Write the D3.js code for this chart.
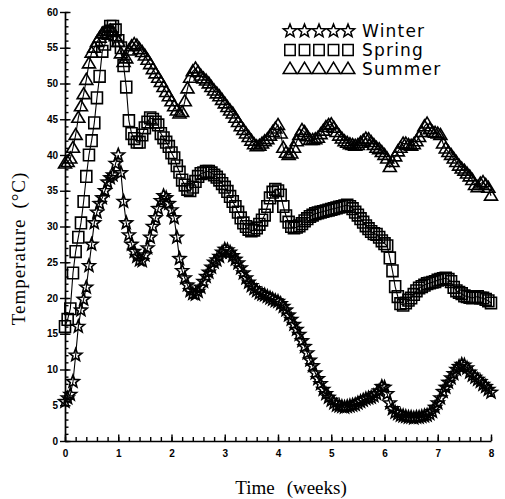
<!DOCTYPE html>
<html>
<head>
<meta charset="utf-8">
<script src="https://cdn.jsdelivr.net/npm/d3@7"></script>
<style>
  body { margin: 0; background: #fff; }
  svg { display: block; }
</style>
</head>
<body>
<svg id="chart" width="505" height="499"></svg>
<script>
// Readings taken every 0.05 week, starting at week 0
const sampleStep = 0.05;

// Temperature (°C), one row per week
const winter = [
  5.5, 6.0, 6.5, 8.3, 12.0, 16.0, 18.3, 19.8, 21.5, 24.5, 27.5, 30.5, 32.0, 33.2, 34.0, 35.0, 36.2, 36.8, 37.2, 38.8,
  40.0, 37.5, 33.5, 30.5, 28.8, 27.5, 26.5, 25.8, 25.3, 25.2, 26.0, 27.0, 28.5, 30.0, 31.2, 32.5, 33.6, 34.3, 34.0, 33.2,
  32.3, 31.2, 28.5, 25.5, 23.8, 22.8, 21.8, 21.0, 20.6, 20.5, 20.9, 21.5, 22.3, 23.0, 23.6, 24.3, 25.0, 25.3, 25.8, 26.4,
  26.8, 26.7, 26.4, 25.9, 25.4, 24.9, 24.2, 23.5, 22.8, 22.2, 21.7, 21.3, 21.0, 20.7, 20.5, 20.4, 20.2, 20.0, 19.8, 19.6,
  19.5, 19.2, 18.8, 18.3, 17.6, 17.0, 16.3, 15.6, 14.9, 14.0, 13.2, 12.3, 11.3, 10.5, 9.5, 8.7, 8.0, 7.2, 6.6, 6.1,
  5.7, 5.3, 5.0, 4.9, 4.8, 4.7, 4.8, 4.9, 5.0, 5.1, 5.3, 5.5, 5.7, 5.9, 6.0, 6.1, 6.3, 6.6, 7.0, 7.6,
  7.5, 6.6, 5.3, 4.5, 4.0, 3.8, 3.6, 3.5, 3.4, 3.3, 3.3, 3.2, 3.3, 3.3, 3.4, 3.5, 3.6, 3.8, 4.1, 4.7,
  5.3, 6.0, 6.9, 7.5, 8.2, 8.8, 9.4, 10.0, 10.4, 10.7, 10.6, 10.2, 9.6, 9.2, 8.9, 8.6, 8.3, 7.9, 7.6, 7.2,
  6.8
];

const spring = [
  16.0, 17.0, 18.5, 23.5, 26.5, 28.5, 30.5, 33.5, 37.0, 40.0, 42.0, 44.5, 48.0, 51.0, 54.5, 55.5, 57.0, 58.0, 58.0, 57.5,
  56.0, 55.0, 52.5, 49.5, 44.8, 43.0, 42.3, 41.8, 41.8, 42.8, 43.8, 44.6, 45.2, 45.0, 44.6, 44.2, 43.0, 42.4, 41.8, 41.2,
  40.3, 39.6, 38.5, 37.6, 36.5, 35.8, 35.2, 35.0, 35.5, 36.3, 37.0, 37.4, 37.5, 37.7, 37.7, 37.5, 37.2, 36.9, 36.5, 36.0,
  35.5, 34.9, 34.2, 33.5, 32.8, 32.0, 31.2, 30.5, 30.0, 29.6, 29.4, 29.5, 29.8, 30.3, 30.9, 31.6, 32.8, 34.0, 34.8, 35.2,
  35.0, 34.4, 32.8, 31.5, 30.6, 30.0, 29.8, 29.9, 30.1, 30.4, 30.8, 31.1, 31.4, 31.6, 31.8, 31.9, 32.0, 32.1, 32.2, 32.3,
  32.4, 32.5, 32.6, 32.7, 32.8, 32.9, 33.0, 32.8, 32.5, 32.0, 31.6, 31.1, 30.6, 30.1, 29.7, 29.3, 29.0, 28.9, 28.5, 28.0,
  27.6, 27.3, 25.6, 23.8, 21.6, 20.2, 19.2, 19.0, 19.3, 19.7, 20.0, 20.5, 21.0, 21.4, 21.6, 21.8, 22.0, 22.1, 22.2, 22.3,
  22.5, 22.6, 22.7, 22.8, 22.6, 22.3, 21.5, 21.0, 20.8, 20.6, 20.3, 20.2, 20.1, 20.0, 20.1, 20.2, 20.0, 20.0, 19.8, 19.6,
  19.3
];

const summer = [
  38.8, 39.0, 39.5, 41.0, 42.8, 45.2, 46.8, 48.5, 50.5, 52.8, 54.3, 55.0, 55.8, 56.4, 57.0, 57.3, 57.4, 57.4, 57.2, 56.6,
  55.8, 54.2, 53.0, 53.5, 54.6, 55.2, 55.5, 55.3, 54.8, 54.4, 53.9, 53.3, 52.7, 52.0, 51.4, 50.8, 50.2, 49.5, 48.8, 48.2,
  47.5, 46.8, 46.2, 45.8, 46.0, 47.5, 49.3, 50.8, 51.7, 52.1, 51.6, 51.1, 50.7, 50.4, 50.0, 49.5, 49.0, 48.6, 48.2, 47.7,
  47.2, 46.7, 46.2, 45.8, 45.2, 44.6, 44.0, 43.5, 43.0, 42.5, 42.0, 41.5, 41.2, 41.3, 41.6, 41.9, 42.2, 42.7, 43.2, 43.7,
  44.2, 43.0, 41.0, 40.3, 40.0, 40.2, 41.0, 41.9, 42.8, 43.5, 43.2, 42.6, 42.1, 42.1, 42.2, 42.4, 42.9, 43.4, 43.9, 44.2,
  44.3, 43.8, 43.2, 42.7, 42.3, 41.9, 41.7, 41.5, 41.4, 41.3, 41.4, 41.7, 42.0, 42.3, 42.2, 41.8, 41.4, 41.0, 40.8, 40.4,
  40.0, 39.5, 38.3, 39.0, 39.8, 40.5, 41.0, 41.6, 41.6, 41.4, 41.3, 41.5, 41.9, 42.5, 43.2, 44.0, 44.4, 43.6, 43.2, 43.1,
  43.0, 42.8, 41.6, 40.9, 40.4, 40.0, 39.5, 39.0, 38.5, 38.1, 37.8, 37.4, 37.0, 36.5, 35.8, 35.5, 36.0, 36.2, 35.8, 35.4,
  34.3
];

const seriesNames = ["Winter", "Spring", "Summer"];
const seriesValues = [winter, spring, summer];
const markerKinds = ["star", "square", "triangle"];

const xTicks = [0, 1, 2, 3, 4, 5, 6, 7, 8];
const yTicks = [0, 5, 10, 15, 20, 25, 30, 35, 40, 45, 50, 55, 60];
const xMinorStep = 0.2;
const yMinorStep = 1;

const xTitle = ["Time", "(weeks)"];
const yTitle = ["Temperature", "(°C)"];

// ---------------------------------------------------------------
const svg = d3.select("#chart");
const plotLeft = 65, plotRight = 491, plotTop = 12, plotBottom = 441;

const x = d3.scaleLinear().domain([0, 8]).range([plotLeft, plotRight]);
const y = d3.scaleLinear().domain([0, 60]).range([plotBottom, plotTop]);

const ink = "#000";

// Marker outlines
function markerPath(kind, s) {
  if (kind === "star") {
    const ro = 6.6 * s, ri = 2.8 * s;
    const pts = d3.range(10).map(k => {
      const a = -Math.PI / 2 + k * Math.PI / 5;
      const r = k % 2 === 0 ? ro : ri;
      return [r * Math.cos(a), r * Math.sin(a)];
    });
    return "M" + pts.map(p => p.join(",")).join("L") + "Z";
  }
  if (kind === "square") {
    const w = 5.5 * s, h = 5.8 * s;
    return `M${-w},${-h}H${w}V${h}H${-w}Z`;
  }
  const w = 6.5 * s, h1 = 6.5 * s, h2 = 4.4 * s;
  return `M0,${-h1}L${w},${h2}H${-w}Z`;
}

// Axes --------------------------------------------------------
const axisStyle = g => {
  g.selectAll(".domain").attr("stroke", ink).attr("stroke-width", 1.7);
  g.selectAll(".tick line").attr("stroke", ink).attr("stroke-width", 1.4);
  g.selectAll("text")
    .attr("fill", ink)
    .style("font-family", "'Liberation Sans', Arial, sans-serif")
    .style("font-weight", "bold")
    .style("font-size", "10px");
};

// y minor ticks (inside)
svg.append("g")
  .attr("transform", `translate(${plotLeft},0)`)
  .call(d3.axisLeft(y).tickValues(d3.range(0, 60 + 1e-9, yMinorStep)).tickSize(-3.5).tickFormat(""))
  .call(axisStyle)
  .call(g => g.select(".domain").remove());

// y major ticks (inside)
svg.append("g")
  .attr("transform", `translate(${plotLeft},0)`)
  .call(d3.axisLeft(y).tickValues(yTicks).tickSize(-5.5).tickFormat(""))
  .call(axisStyle)
  .call(g => g.select(".domain").remove());

// y major ticks (outside) with labels and axis line
svg.append("g")
  .attr("transform", `translate(${plotLeft},0)`)
  .call(d3.axisLeft(y).tickValues(yTicks).tickSizeInner(5).tickSizeOuter(0).tickPadding(2).tickFormat(d3.format("d")))
  .call(axisStyle);

// x minor ticks (inside)
svg.append("g")
  .attr("transform", `translate(0,${plotBottom})`)
  .call(d3.axisBottom(x).tickValues(d3.range(0, 8 + 1e-9, xMinorStep)).tickSize(-4).tickFormat(""))
  .call(axisStyle)
  .call(g => g.select(".domain").remove());

// x major ticks with labels and axis line
svg.append("g")
  .attr("transform", `translate(0,${plotBottom})`)
  .call(d3.axisBottom(x).tickValues(xTicks).tickSize(-6.5).tickSizeOuter(0).tickPadding(9).tickFormat(d3.format("d")))
  .call(axisStyle);

// Axis titles ---------------------------------------------------
const serif = "'Liberation Serif', 'Times New Roman', serif";

const xt = svg.append("text")
  .attr("x", x(4) + 13)
  .attr("y", 494)
  .attr("text-anchor", "middle")
  .attr("fill", ink)
  .style("font-family", serif)
  .style("font-size", "19px");
xt.append("tspan").text(xTitle[0]);
xt.append("tspan").attr("dx", 12).text(xTitle[1]);

const yt = svg.append("text")
  .attr("transform", `translate(25,${(plotTop + plotBottom) / 2 + 22}) rotate(-90)`)
  .attr("text-anchor", "middle")
  .attr("fill", ink)
  .style("font-family", serif)
  .style("font-size", "19px")
  .style("letter-spacing", "1px");
yt.append("tspan").text(yTitle[0]);
yt.append("tspan").attr("dx", 10).text(yTitle[1]);

// Series ---------------------------------------------------------
const line = d3.line()
  .x((d, i) => x(i * sampleStep))
  .y(d => y(d));

seriesValues.forEach((vals, si) => {
  const g = svg.append("g").attr("class", "series " + seriesNames[si].toLowerCase());
  g.append("path")
    .attr("d", line(vals))
    .attr("fill", "none")
    .attr("stroke", ink)
    .attr("stroke-width", 1.1);
  g.selectAll("path.marker")
    .data(vals)
    .join("path")
    .attr("class", "marker")
    .attr("transform", (d, i) => `translate(${x(i * sampleStep)},${y(d)})`)
    .attr("d", markerPath(markerKinds[si], 1))
    .attr("fill", "none")
    .attr("stroke", ink)
    .attr("stroke-width", 1.6)
    .attr("stroke-linejoin", "miter");
});

// Legend ---------------------------------------------------------
const legend = svg.append("g").attr("class", "legend");
const legendRows = [31, 50, 69];
const legendMarkerX = [290, 304.5, 319, 333.5, 348];

seriesNames.forEach((name, si) => {
  const row = legend.append("g").attr("transform", `translate(0,${legendRows[si]})`);
  row.selectAll("path")
    .data(legendMarkerX)
    .join("path")
    .attr("transform", d => `translate(${d},0)`)
    .attr("d", markerPath(markerKinds[si], si === 1 ? 0.95 : 1.05))
    .attr("fill", "none")
    .attr("stroke", ink)
    .attr("stroke-width", 1.5);
  row.append("text")
    .attr("x", 362)
    .attr("y", 6)
    .attr("fill", ink)
    .style("font-family", "'DejaVu Sans', sans-serif")
    .style("font-size", "17px")
    .style("letter-spacing", "1.2px")
    .text(name);
});
</script>
</body>
</html>
